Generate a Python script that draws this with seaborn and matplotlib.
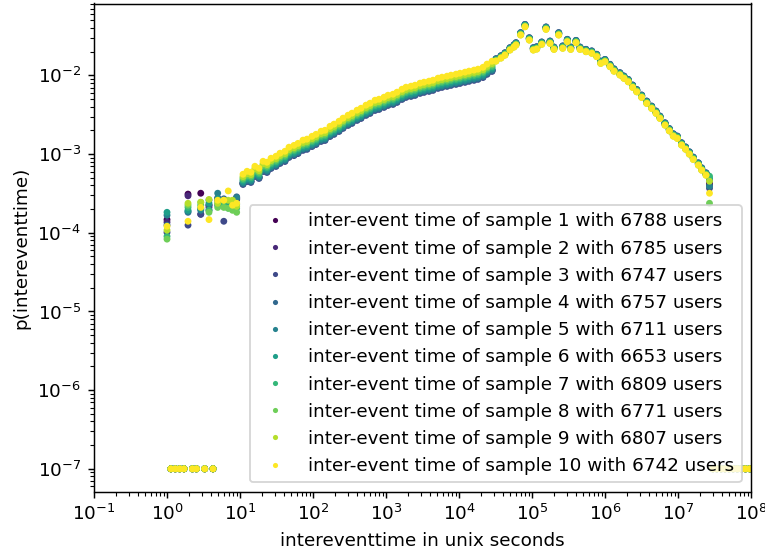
import matplotlib
matplotlib.use("Agg")
import matplotlib.pyplot as plt
import numpy as np
import pandas as pd
import seaborn as sns

# users per sample (legend)
sample_users = [6788, 6785, 6747, 6757, 6711, 6653, 6809, 6771, 6807, 6742]

# small inter-event times: one column of points per integer second
low_x = [1.0, 1.94, 2.9, 3.76, 4.95, 6.0, 6.9, 7.9, 9.0]
low_p = [  # one row per sample, units of 1e-4
    [1.47, 3.10, 3.18, 2.24, 2.59, 2.37, 2.24, 2.44, 2.70],
    [1.36, 2.95, 1.72, 2.10, 2.70, 2.50, 2.10, 2.30, 2.78],
    [1.01, 1.25, 1.72, 1.93, 2.78, 1.40, 2.17, 2.24, 2.65],
    [1.25, 1.82, 1.99, 2.24, 2.24, 2.70, 2.24, 2.37, 2.86],
    [1.67, 1.87, 1.93, 2.59, 3.18, 2.59, 2.44, 2.30, 2.78],
    [1.82, 1.93, 2.05, 2.37, 2.70, 2.44, 2.30, 2.10, 2.30],
    [0.90, 2.10, 2.24, 1.93, 2.37, 2.24, 2.05, 2.00, 2.05],
    [0.83, 2.24, 2.44, 1.82, 2.10, 2.10, 2.05, 1.93, 1.82],
    [1.08, 2.37, 2.44, 2.65, 2.37, 2.59, 2.59, 2.59, 2.17],
    [1.21, 1.40, 2.10, 1.47, 2.59, 2.59, 3.40, 2.24, 2.37],
]

# shared shape of the distribution (log bins)
curve_x = [
    11.0, 12.5, 14.1, 16.0, 18.2, 20.7, 23.4, 26.6, 31.1, 35.3,
    41.3, 46.9, 54.9, 62.3, 72.9, 82.7, 96.9, 110, 129, 146,
    171, 194, 227, 258, 302, 342, 401, 455, 532, 604,
    707, 802, 939, 1065, 1247, 1415, 1656, 1879, 2200, 2496,
    2923, 3317, 3882, 4405, 5156, 5850, 6849, 7771, 9097, 10320,
    12080, 13710, 16050, 18210, 21320, 24190, 28320, 32130, 37610, 42680,
    49960, 56680, 60390, 69980, 80200, 91850, 104200, 116000, 135900, 155600,
    176600, 200100, 232200, 263600, 304500, 339000, 401000, 455000, 549000, 658000,
    770000, 873000, 1.0e6, 1.17e6, 1.33e6, 1.60e6, 1.82e6, 2.08e6, 2.39e6, 2.72e6,
    3.18e6, 3.73e6, 4.36e6, 5.00e6, 5.66e6, 6.64e6, 7.60e6, 8.63e6, 9.78e6, 1.12e7,
    1.27e7, 1.43e7, 1.62e7, 1.90e7, 2.11e7, 2.42e7,
]
curve_p = [
    4.94e-4, 5.39e-4, 5.24e-4, 6.24e-4, 5.89e-4, 7.22e-4, 7.02e-4, 7.89e-4, 8.37e-4, 9.14e-4,
    9.68e-4, 1.09e-3, 1.15e-3, 1.22e-3, 1.34e-3, 1.38e-3, 1.50e-3, 1.59e-3, 1.74e-3, 1.79e-3,
    2.01e-3, 2.14e-3, 2.33e-3, 2.55e-3, 2.78e-3, 2.95e-3, 3.22e-3, 3.41e-3, 3.73e-3, 3.95e-3,
    4.31e-3, 4.44e-3, 4.71e-3, 4.99e-3, 5.14e-3, 5.45e-3, 5.95e-3, 6.31e-3, 6.50e-3, 6.69e-3,
    7.10e-3, 7.31e-3, 7.53e-3, 7.75e-3, 8.22e-3, 8.46e-3, 8.71e-3, 8.97e-3, 9.24e-3, 9.50e-3,
    9.80e-3, 1.01e-2, 1.04e-2, 1.07e-2, 1.13e-2, 1.24e-2, 1.35e-2, 1.52e-2, 1.66e-2, 1.81e-2,
    2.10e-2, 2.29e-2, 2.43e-2, 3.26e-2, 4.15e-2, 2.81e-2, 2.10e-2, 2.16e-2, 2.48e-2, 3.85e-2,
    2.55e-2, 2.14e-2, 3.26e-2, 2.21e-2, 2.68e-2, 2.14e-2, 2.60e-2, 2.14e-2, 2.00e-2, 1.91e-2,
    1.73e-2, 1.42e-2, 1.49e-2, 1.29e-2, 1.13e-2, 1.01e-2, 9.16e-3, 8.29e-3, 7.04e-3, 6.18e-3,
    5.25e-3, 4.40e-3, 3.80e-3, 3.29e-3, 2.84e-3, 2.33e-3, 1.97e-3, 1.69e-3, 1.58e-3, 1.30e-3,
    1.15e-3, 9.97e-4, 8.54e-4, 7.22e-4, 6.24e-4, 5.39e-4,
]

# per-sample vertical offset of each band (decades)
rise_shift = [-0.06, -0.07, -0.08, -0.07, -0.06, -0.04, -0.02, 0.0, 0.02, 0.05]
fall_shift = [0.02, 0.02, 0.03, 0.03, 0.02, 0.02, 0.01, 0.01, 0.0, 0.0]

# last bin before the cut-off
tail_x = 2.7e7
tail_p = [4.27e-4, 4.02e-4, 3.68e-4, 4.66e-4, 3.90e-4, 4.94e-4, 5.24e-4, 2.37e-4, 4.52e-4, 3.18e-4]

# empty bins are shown at 1e-7
zero_x = [1.13, 1.30, 1.49, 1.71, 2.23, 2.53, 3.28, 4.27,
          3.0e7, 3.4e7, 3.9e7, 4.4e7, 5.0e7, 5.7e7, 6.5e7, 7.4e7, 8.4e7, 9.6e7, 1.09e8]
zero_p = 1e-7

labels = [f"inter-event time of sample {i + 1} with {u} users" for i, u in enumerate(sample_users)]

rows = []
for i, lab in enumerate(labels):
    for x, p in zip(low_x, low_p[i]):
        rows.append((x, p * 1e-4, lab))
    for x, p in zip(curve_x, curve_p):
        shift = rise_shift[i] if x < 3e4 else fall_shift[i]
        rows.append((x, p * 10 ** shift, lab))
    rows.append((tail_x, tail_p[i], lab))
    for x in zero_x:
        rows.append((x, zero_p, lab))
df = pd.DataFrame(rows, columns=["time", "prob", "label"])

colors = [matplotlib.colors.to_hex(c) for c in plt.cm.viridis(np.linspace(0, 1, len(labels)))]

fig = plt.figure(figsize=(765 / 132, 554 / 132), dpi=132)
ax = fig.add_axes([94 / 765, 1 - 491.5 / 554, 657 / 765, 488 / 554])
sns.scatterplot(data=df, x="time", y="prob", hue="label", hue_order=labels,
                palette=colors, s=14, linewidth=0, ax=ax)
ax.set_xscale("log")
ax.set_yscale("log")
ax.set_xlim(1e-1, 1e8)
ax.set_ylim(5.15e-8, 8.2e-2)
ax.set_xlabel("intereventtime in unix seconds")
ax.set_ylabel("p(intereventtime)")
handles, labs = ax.get_legend_handles_labels()
ax.legend(handles, labs, loc="lower right", markerscale=0.75)
fig.savefig("out.png", dpi=132)
